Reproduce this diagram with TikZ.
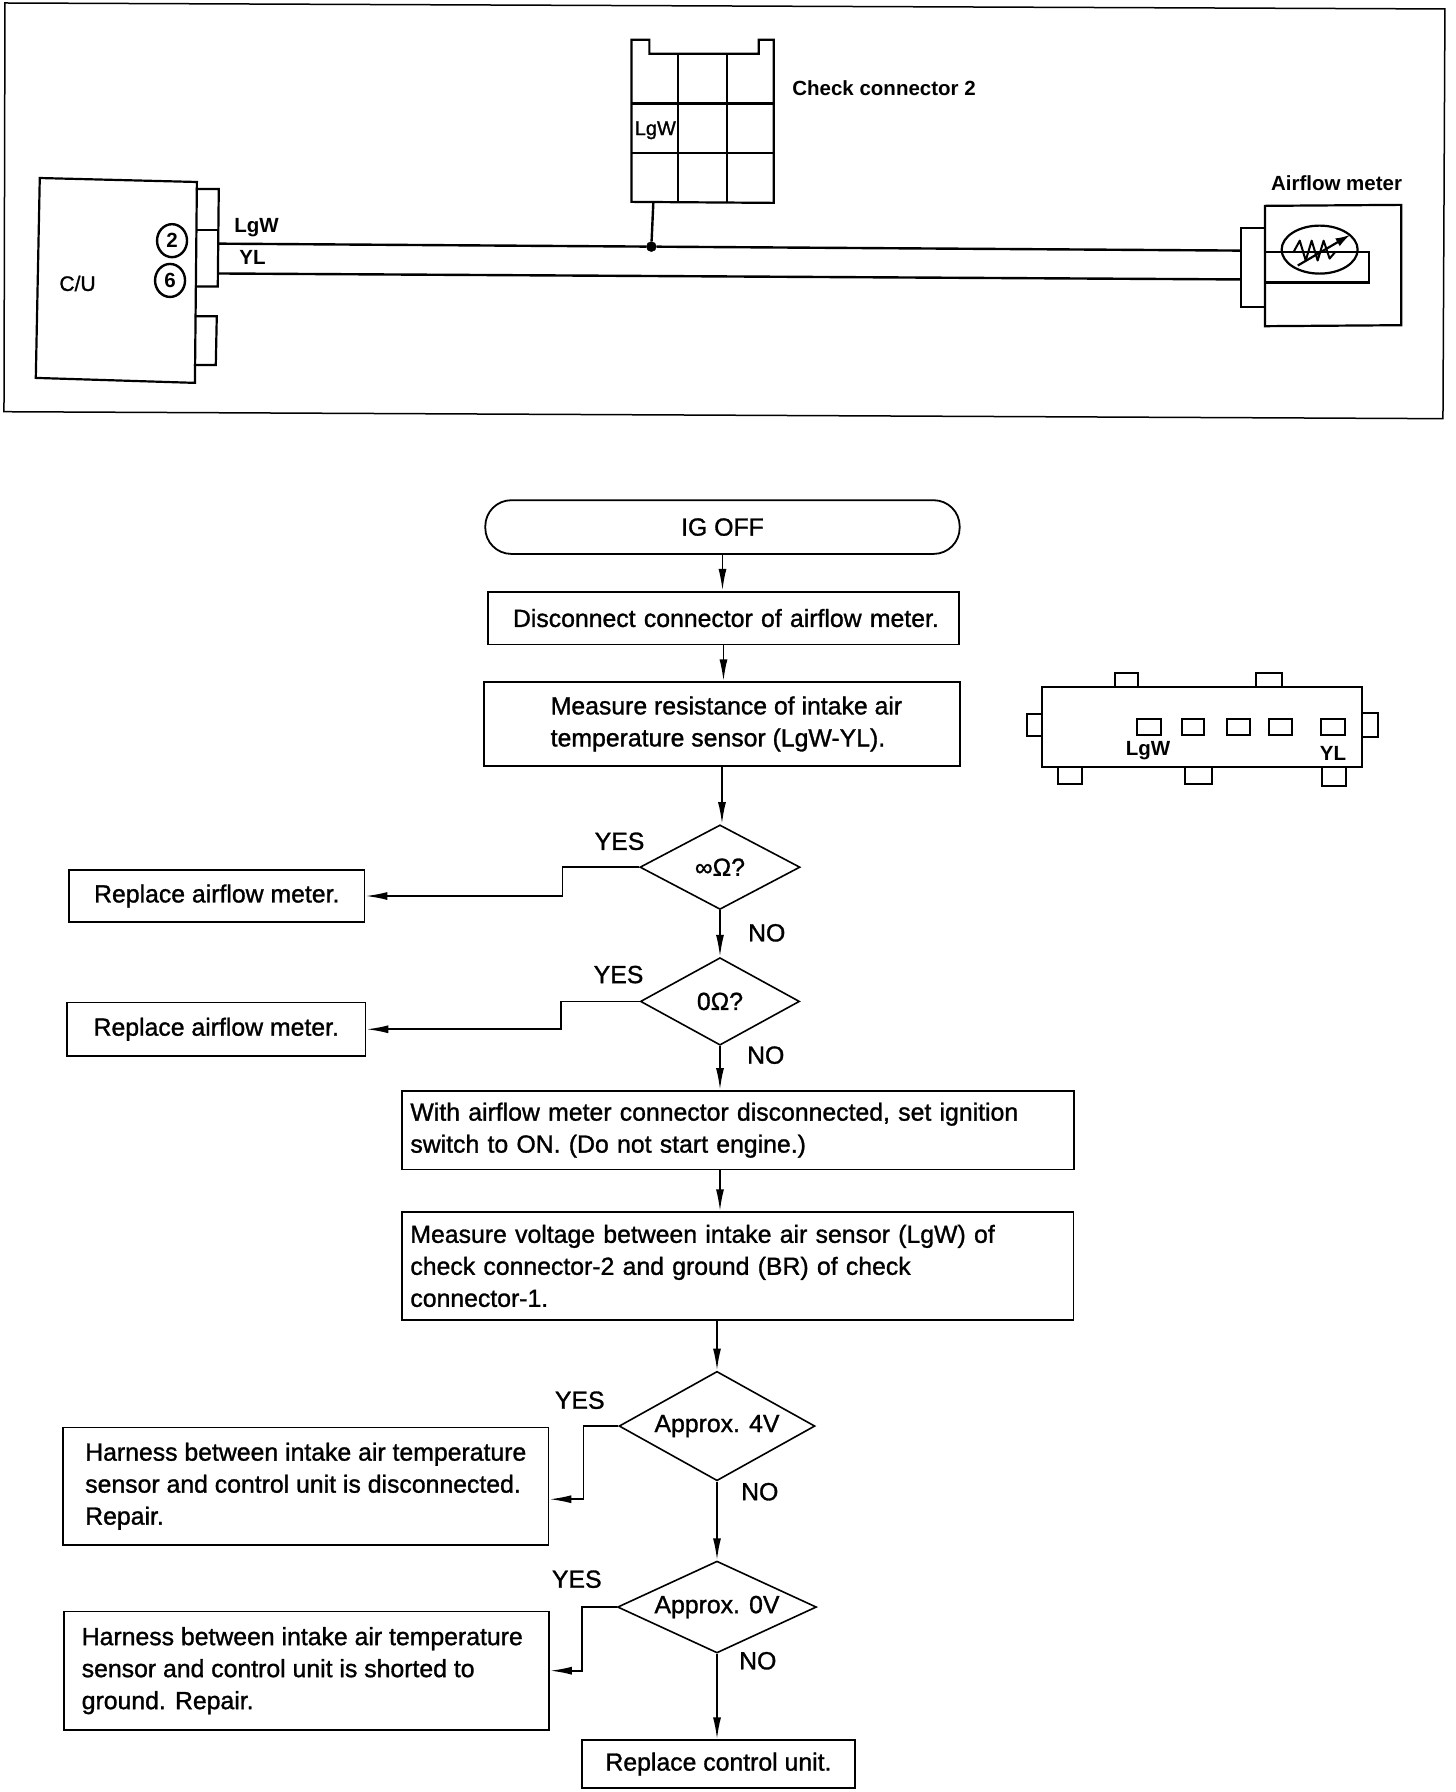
\documentclass[tikz,border=0pt]{standalone}
\usepackage{fontspec}
\setmainfont{Liberation Sans}
\newfontfamily\heavy{Liberation Sans}[FakeBold=1.2]
\usetikzlibrary{arrows.meta,shapes.geometric}
\newcommand{\ftext}{\heavy\fontsize{24.8}{32}\selectfont}
\newcommand{\fsmall}{\fontsize{20.5}{24}\selectfont\bfseries}
\tikzset{
  ln/.style={line width=2.2pt,line join=miter},
  thinln/.style={line width=1.5pt},
  wire/.style={line width=2.4pt},
  bx/.style n args={2}{draw,line width=1.8pt,minimum width=.9945*#1pt,minimum height=.9945*#2pt,inner sep=0pt,font=\ftext},
  dia/.style n args={2}{draw,diamond,aspect=1.8,line width=1.6pt,minimum width=.9945*#1pt,minimum height=.9945*#2pt,inner sep=0pt,font=\ftext},
  arr/.style={line width=1.8pt,-{Latex[length=22pt,width=8pt]}},
  lab/.style={font=\ftext,inner sep=0pt},
  small/.style={font=\fsmall,inner sep=0pt},
  num/.style={draw,ellipse,line width=2.4pt,minimum width=30pt,minimum height=33pt,inner sep=0pt,font=\fsmall},
}
\begin{document}
\begin{tikzpicture}[x=0.9945pt,y=-0.9945pt]
\useasboundingbox (0,0) rectangle (1464,1802);
% ---- top panel
\draw[thinln] (5,3) -- (1453,9) -- (1451,421) -- (4,414) -- cycle;
% control unit
\draw[ln] (40,179) -- (198,183) -- (196,385) -- (36,380) -- cycle;
\draw[ln] (197,190) -- (220,190) -- (219,288) -- (196,288);
\draw[ln] (197,231) -- (220,231);
\draw[ln] (196,318) -- (218,318) -- (217,367) -- (195,367);
\node[num] (n2) at (173,242) {2};
\node[num] (n6) at (171,282) {6};
\node[inner sep=0pt,font=\heavy\fontsize{21}{24}\selectfont] (cu) at (78,285) {C/U};
\node[small] (lgw1) at (258,229) {LgW};
\node[small] (yl1) at (254,259) {YL};
\coordinate (wa1) at (220,245);
\coordinate (wb1) at (219,275);
\coordinate (wa2) at (1248,252);
\coordinate (wb2) at (1248,281);
% check connector
\draw[ln] (635,56) -- (635,40) -- (653,40) -- (653,54) -- (763,54) -- (763,40) -- (778,40) -- (778,204) -- (635,203) -- cycle;
\draw[ln] (635,104) -- (778,104) (635,154) -- (778,154);
\draw[ln] (682,54) -- (682,203) (731,54) -- (731,203);
\node[inner sep=0pt,font=\heavy\fontsize{20}{24}\selectfont] (lgw2) at (659,131) {LgW};
\node[small] (cc2) at (889,89) {Check connector 2};
\coordinate (stem) at (657,203);
\node[draw,circle,fill=black,minimum size=10pt,inner sep=0pt] (j) at (655,248) {};
\draw[wire] (stem) -- (j);
\draw[wire] (wa1) -- (j) -- (wa2);
\draw[wire] (wb1) -- (wb2);
% airflow meter
\node[small] (afm) at (1344,184) {Airflow meter};
\draw[ln] (1272,207) -- (1409,206) -- (1409,327) -- (1272,328) -- cycle;
\draw[ln] (1272,229) -- (1248,229) -- (1248,309) -- (1272,309);
\node[draw,ellipse,line width=2.2pt,minimum width=76pt,minimum height=48pt,inner sep=0pt] (res) at (1327,251) {};
\draw[ln] (1272,253) -- (1377,253) -- (1377,284) -- (1272,284);
\draw[line width=2pt,line join=round] (1301,253) -- (1307,242) -- (1313,262) -- (1319,242) -- (1325,262) -- (1331,242) -- (1337,260) -- (1343,253);
\draw[line width=2.2pt,-{Latex[length=15pt,width=9pt]}] (1305,267) -- (1358,236);
% ---- connector view
\begin{scope}[x=1pt,y=-1pt]
\draw[ln] (1042,687) rectangle (1362,767);
\draw[ln] (1115,687) -- (1115,673) -- (1138,673) -- (1138,687);
\draw[ln] (1256,687) -- (1256,673) -- (1282,673) -- (1282,687);
\draw[ln] (1042,714) -- (1027,714) -- (1027,736) -- (1042,736);
\draw[ln] (1362,713) -- (1378,713) -- (1378,737) -- (1362,737);
\draw[ln] (1058,767) -- (1058,784) -- (1082,784) -- (1082,767);
\draw[ln] (1185,767) -- (1185,784) -- (1212,784) -- (1212,767);
\draw[ln] (1322,767) -- (1322,786) -- (1346,786) -- (1346,767);
\draw[ln] (1137,719) rectangle (1161,735);
\draw[ln] (1182,719) rectangle (1204,735);
\draw[ln] (1227,719) rectangle (1250,735);
\draw[ln] (1269,719) rectangle (1292,735);
\draw[ln] (1321,719) rectangle (1345,735);
\node[small] (lgw3) at (1148,751) {LgW};
\node[small] (yl3) at (1333,753) {YL};
\end{scope}
% ---- flowchart
\node[bx={477}{54},rounded corners=26pt] (ig) at (726.5,530) {IG OFF};
\node[bx={474}{53},align=left,text width=445pt,inner xsep=0pt] (dis) at (727.5,621.5) {\hspace*{12pt}Disconnect connector of airflow meter.};
\node[bx={478}{84},align=left] (mes) at (726,728) {\hspace*{9pt}Measure resistance of intake air\\\hspace*{9pt}temperature sensor (LgW-YL).};
\node[dia={161}{85}] (d1) at (724,872) {∞Ω?};
\node[dia={160}{88}] (d2) at (724,1007) {0Ω?};
\node[bx={297}{52}] (r1) at (218,901) {Replace airflow meter.};
\node[bx={300}{54}] (r2) at (217.5,1035) {Replace airflow meter.};
\node[bx={676}{79},align=left,text width=655pt,inner xsep=0pt] (w) at (742,1136.5) {With airflow meter connector disconnected, set ignition\\switch to ON. (Do not start engine.)};
\node[bx={675}{108},align=left,text width=655pt,inner xsep=0pt] (v) at (742,1273) {Measure voltage between intake air sensor (LgW) of\\check connector-2 and ground (BR) of check\\connector-1.};
\node[dia={197}{110}] (d3) at (721,1434) {Approx. 4V};
\node[bx={488}{118},align=left] (h1) at (307.5,1494.5) {Harness between intake air temperature\\sensor and control unit is disconnected.\\Repair.};
\node[dia={200}{90}] (d4) at (721,1616) {Approx. 0V};
\node[bx={488}{119},align=left] (h2) at (308,1680) {Harness between intake air temperature\hspace*{8pt}\\sensor and control unit is shorted to\\ground. Repair.};
\node[bx={275}{48}] (rc) at (722.5,1774) {Replace control unit.};
\node[lab] (y1) at (623,846) {YES};
\node[lab] (no1) at (771,938) {NO};
\node[lab] (y2) at (622,980) {YES};
\node[lab] (no2) at (770,1061) {NO};
\node[lab] (y3) at (583,1408) {YES};
\node[lab] (no3) at (764,1500) {NO};
\node[lab] (y4) at (580,1588) {YES};
\node[lab] (no4) at (762,1670) {NO};
\draw[arr] (ig.south) -- (ig.south |- dis.north);
\draw[arr] (dis.south) -- (dis.south |- mes.north);
\draw[arr] (mes.south) -- (mes.south |- d1.north);
\draw[arr] (d1.south) -- (d2.north);
\draw[arr] (d2.south) -- (d2.south |- w.north);
\draw[arr] (d2.south |- w.south) -- (d2.south |- v.north);
\draw[arr] (d3.north |- v.south) -- (d3.north);
\draw[arr] (d3.south) -- (d4.north);
\draw[arr] (d4.south) -- (d4.south |- rc.north);
\draw[arr] (d1.west) -- ++(-77,0) |- (r1.east);
\draw[arr] (d2.west) -- ++(-79,0) |- (r2.east);
\draw[arr] (d3.west) -- ++(-35,0) |- ([yshift=-13pt]h1.east);
\draw[arr] (d4.west) -- ++(-35,0) |- (h2.east);
\end{tikzpicture}
\end{document}
